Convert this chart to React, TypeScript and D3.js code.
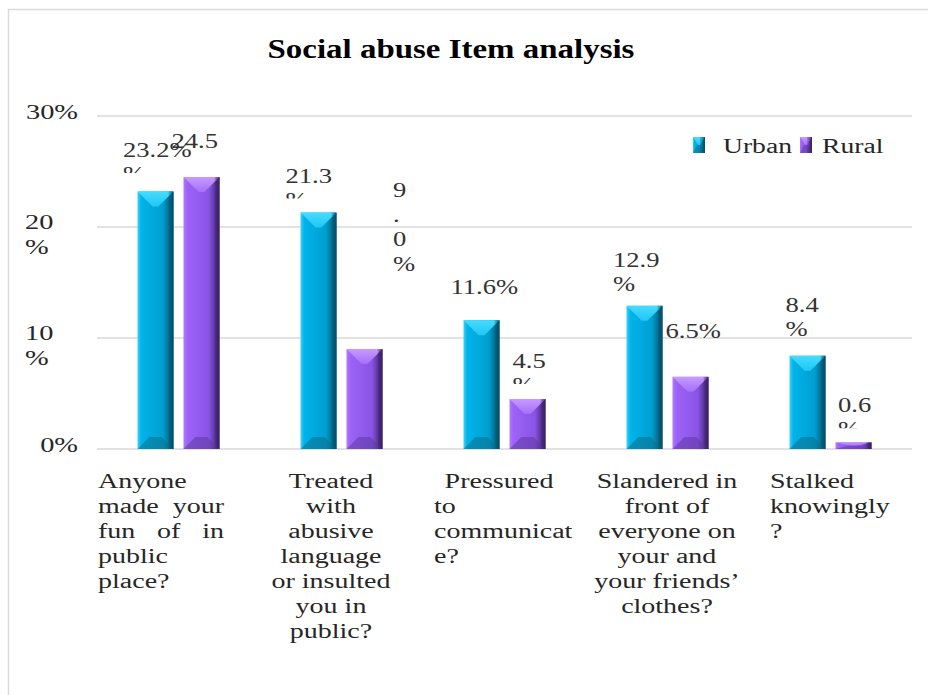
import React from "react";
import * as d3 from "d3";

const categories = [
  "Anyone made your fun of in public place?",
  "Treated with abusive language or insulted you in public?",
  "Pressured to communicate?",
  "Slandered in front of everyone on your and your friends’ clothes?",
  "Stalked knowingly?",
];
const seriesNames = ["Urban", "Rural"];
const urban = [23.2, 21.3, 11.6, 12.9, 8.4];
const rural = [24.5, 9.0, 4.5, 6.5, 0.6];
const yTicks = [0, 10, 20, 30];
const yTickLabels = [["0%"], ["10", "%"], ["20", "%"], ["30%"]];
const title = "Social abuse Item analysis";

// label text as wrapped in the original picture
const urbanLabelLines = [["23.2%", "%"], ["21.3", "%"], ["11.6%"], ["12.9", "%"], ["8.4", "%"]];
const ruralLabelLines = [["24.5"], ["9", ".", "0", "%"], ["4.5", "%"], ["6.5%"], ["0.6", "%"]];
const xLabelLines = [
  ["Anyone", "made your", "fun of in", "public", "place?"],
  ["Treated", "with", "abusive", "language", "or insulted", "you in", "public?"],
  ["Pressured", "to", "communicat", "e?"],
  ["Slandered in", "front of", "everyone on", "your and", "your friends’", "clothes?"],
  ["Stalked", "knowingly", "?"],
];

// layout (not data)
const xLabelAlign = [
  ["left", "justify", "justify", "left", "left"],
  ["center", "center", "center", "center", "center", "center", "center"],
  ["center", "left", "left", "left"],
  ["center", "center", "center", "center", "center", "center"],
  ["left", "left", "left"],
];
const urbanLabelLayout = [
  { dx: -32.5, dy: -34.5, clipLast: true },
  { dx: -33, dy: -30, clipLast: true },
  { dx: -31, dy: -26, clipLast: false },
  { dx: -31.5, dy: -39, clipLast: false },
  { dx: -22, dy: -44, clipLast: false },
];
const ruralLabelLayout = [
  { dx: -30, dy: -29, clipLast: false },
  { dx: 28.5, dy: -152, clipLast: false },
  { dx: -15, dy: -31, clipLast: true },
  { dx: -25, dy: -39, clipLast: false },
  { dx: -15.5, dy: -30, clipLast: true },
];

const W = 928;
const H = 695;
const FONT = "Liberation Serif";
const TEXT = "#262626";

const canvas = typeof document !== "undefined" ? document.createElement("canvas") : null;
const ctx = canvas ? canvas.getContext("2d") : null;
function tw(s: string, size: number, weight = "normal") {
  if (!ctx) return s.length * size * 0.5;
  ctx.font = `${weight} ${size}px "Liberation Serif"`;
  return ctx.measureText(s).width;
}

function T(props: {
  x: number;
  y: number;
  size: number;
  sx: number;
  anchor?: string;
  weight?: string;
  fill?: string;
  clip?: string;
  children: React.ReactNode;
}) {
  const { x, y, size, sx, anchor = "start", weight = "normal", fill = TEXT, clip } = props;
  return (
    <g clipPath={clip}>
      <text
        transform={`translate(${x},${y}) scale(${sx},1)`}
        textAnchor={anchor}
        fontFamily={FONT}
        fontSize={size}
        fontWeight={weight}
        fill={fill}
      >
        {props.children}
      </text>
    </g>
  );
}

const palettes = {
  Urban: { light: "#3fd2fb", main: "#00b4ea", mid: "#009fd0", dark: "#04506a", top: "#45dcff", topIn: "#20c6f4", bottom: "#0a6f8e" },
  Rural: { light: "#b27cff", main: "#9d63f8", mid: "#8a54e6", dark: "#3a2168", top: "#c89aff", topIn: "#a56ff9", bottom: "#5e3aa0" },
};

function BevelBar({ x0, w, yTop, yBot, name }: { x0: number; w: number; yTop: number; yBot: number; name: "Urban" | "Rural" }) {
  const x1 = x0 + w;
  const h = yBot - yTop;
  const t = Math.min(15, h / 2);
  const b = Math.min(12, h / 2);
  const inset = w * 0.42;
  const binset = w * 0.33;
  const p = palettes[name];
  return (
    <g>
      <rect x={x0} y={yTop} width={w} height={h} fill={`url(#grad-${name})`} />
      <polygon
        points={`${x0},${yTop} ${x1},${yTop} ${x1 - inset},${yTop + t} ${x0 + inset},${yTop + t}`}
        fill={`url(#top-${name})`}
      />
      <polygon
        points={`${x0},${yBot} ${x1},${yBot} ${x1 - binset},${yBot - b} ${x0 + binset},${yBot - b}`}
        fill={p.bottom}
        opacity={0.55}
      />
      <rect x={x1 - 5} y={yTop} width={5} height={h} fill={`url(#side-${name})`} />
    </g>
  );
}

export default function App() {
  const left = 97;
  const right = 912;
  const y = d3.scaleLinear().domain([0, 30]).range([449, 116]);
  const x = d3.scaleBand().domain(categories).range([left, right]);
  const x1 = d3.scaleBand().domain(seriesNames).range([0, 82]).paddingInner(0.217);
  const groupOff = (x.bandwidth() - 82) / 2;

  const bars: any[] = [];
  const labels: any[] = [];
  const clips: any[] = [];
  categories.forEach((c, i) => {
    seriesNames.forEach((s) => {
      const v = s === "Urban" ? urban[i] : rural[i];
      const lines = s === "Urban" ? urbanLabelLines[i] : ruralLabelLines[i];
      const lay = s === "Urban" ? urbanLabelLayout[i] : ruralLabelLayout[i];
      const bx = x(c)! + groupOff + x1(s)!;
      const bw = x1.bandwidth();
      bars.push(
        <BevelBar key={`b-${s}-${i}`} x0={bx} w={bw} yTop={y(v)} yBot={y(0)} name={s as any} />
      );
      const cx = bx + bw / 2;
      const lh = lines.length > 2 ? 24.5 : 24;
      lines.forEach((ln, j) => {
        const ty = y(v) + lay.dy + j * lh;
        let clip: string | undefined;
        if (lay.clipLast && j === lines.length - 1 && lines.length > 1) {
          const id = `clip-${s}-${i}`;
          clips.push(
            <clipPath id={id} key={id}>
              <rect x={cx + lay.dx - 5} y={ty - 20} width={60} height={12} />
            </clipPath>
          );
          clip = `url(#${id})`;
        }
        labels.push(
          <T key={`l-${s}-${i}-${j}`} x={cx + lay.dx} y={ty} size={20} sx={1.33} fill="#333" clip={clip}>
            {ln}
          </T>
        );
      });
    });
  });

  // category labels
  const xLabels: any[] = [];
  const XS = 20;
  const XSX = 1.4;
  const boxW = 126;
  categories.forEach((c, i) => {
    const bx = x(c)! + 1 + i * 5;
    xLabelLines[i].forEach((ln, j) => {
      const ty = y(0) + 39 + j * 25;
      const al = xLabelAlign[i][j];
      if (al === "justify") {
        const words = ln.split(" ");
        const ws = words.map((w) => tw(w, XS) * XSX);
        const gap = (boxW - d3.sum(ws)) / (words.length - 1);
        let cur = bx;
        words.forEach((w, k) => {
          xLabels.push(
            <T key={`x-${i}-${j}-${k}`} x={cur} y={ty} size={XS} sx={XSX}>
              {w}
            </T>
          );
          cur += ws[k] + gap;
        });
      } else if (al === "center") {
        xLabels.push(
          <T key={`x-${i}-${j}`} x={bx + 65} y={ty} size={XS} sx={XSX} anchor="middle">
            {ln}
          </T>
        );
      } else {
        xLabels.push(
          <T key={`x-${i}-${j}`} x={bx} y={ty} size={XS} sx={XSX}>
            {ln}
          </T>
        );
      }
    });
  });

  return (
    <svg width={W} height={H} style={{ position: "absolute", left: 0, top: 0, background: "#fff" }}>
      <defs>
        {seriesNames.map((s) => {
          const p = (palettes as any)[s];
          return (
            <React.Fragment key={s}>
              <linearGradient id={`grad-${s}`} x1="0" y1="0" x2="1" y2="0">
                <stop offset="0" stopColor={p.light} />
                <stop offset="0.1" stopColor={p.main} />
                <stop offset="0.7" stopColor={p.mid} />
                <stop offset="1" stopColor={p.dark} />
              </linearGradient>
              <linearGradient id={`top-${s}`} x1="0" y1="0" x2="0" y2="1">
                <stop offset="0" stopColor={p.top} />
                <stop offset="1" stopColor={p.topIn} />
              </linearGradient>
              <linearGradient id={`side-${s}`} x1="0" y1="0" x2="1" y2="0">
                <stop offset="0" stopColor={p.dark} stopOpacity={0.2} />
                <stop offset="1" stopColor={p.dark} stopOpacity={0.9} />
              </linearGradient>
            </React.Fragment>
          );
        })}
        {clips}
      </defs>
      <rect x={8.5} y={9.5} width={1000} height={1000} fill="#fff" stroke="#d9d9d9" strokeWidth={1.5} />
      <T x={451} y={58} size={27} sx={1.22} weight="bold" anchor="middle" fill="#000">
        {title}
      </T>
      {yTicks.map((t) => (
        <line key={`g${t}`} x1={left} x2={right} y1={y(t)} y2={y(t)} stroke="#d9d9d9" strokeWidth={1.5} />
      ))}
      {yTicks.map((t, i) => {
        const ls = yTickLabels[i];
        if (ls.length === 1)
          return (
            <T key={`yt${t}`} x={78} y={y(t) + 3} size={20} sx={1.42} anchor="end">
              {ls[0]}
            </T>
          );
        return ls.map((l, j) => (
          <T key={`yt${t}-${j}`} x={25} y={y(t) + 2 + j * 25} size={20} sx={1.42}>
            {l}
          </T>
        ));
      })}
      {bars}
      {labels}
      {xLabels}
      {/* legend */}
      {seriesNames.map((s, i) => {
        const lx = [693, 800][i];
        return (
          <g key={`lg${s}`}>
            <BevelBar x0={lx} w={12} yTop={137} yBot={153} name={s as any} />
            <T x={lx + 30 - i * 8} y={153} size={20} sx={1.38}>
              {s}
            </T>
          </g>
        );
      })}
    </svg>
  );
}
